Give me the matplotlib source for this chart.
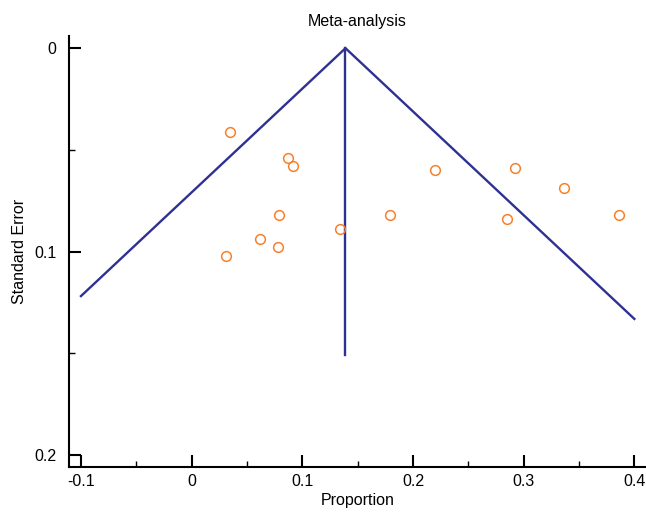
import numpy as np
import matplotlib
matplotlib.use("Agg")
import matplotlib.pyplot as plt
from matplotlib.ticker import MultipleLocator

plt.rcParams['font.family'] = ['Liberation Sans', 'DejaVu Sans']

# study estimates
proportion = [0.035, 0.087, 0.092, 0.079, 0.062, 0.078, 0.031, 0.134,
              0.179, 0.220, 0.292, 0.336, 0.285, 0.386]
std_error = [0.041, 0.054, 0.058, 0.082, 0.094, 0.098, 0.102, 0.089,
             0.082, 0.060, 0.059, 0.069, 0.084, 0.082]
pooled = 0.139
pooled_se_max = 0.151
x_ticks = [-0.1, 0, 0.1, 0.2, 0.3, 0.4]
y_ticks = [0, 0.1, 0.2]

navy = '#2E3192'
orange = '#F7812A'

fig = plt.figure(figsize=(6.46, 5.13), dpi=100)
ax = fig.add_axes([69/646, 46/513, 577/646, 431/513])

# funnel limits, cut where they reach the x range
se_left = (pooled - x_ticks[0]) / 1.96
se_right = (x_ticks[-1] - pooled) / 1.96
ax.plot([x_ticks[0], pooled, x_ticks[-1]], [se_left, 0, se_right],
        color=navy, lw=1.7, solid_joinstyle='miter')
ax.plot([pooled, pooled], [0, pooled_se_max], color=navy, lw=1.7)

ax.plot(proportion, std_error, 'o', mfc='none', mec=orange, ms=7, mew=1.1)

ax.set_xlim(-0.1108, 0.4105)
ax.set_ylim(0.206, -0.006)
ax.set_xticks(x_ticks)
ax.set_xticklabels(['-0.1', '0', '0.1', '0.2', '0.3', '0.4'])
ax.set_yticks(y_ticks)
ax.set_yticklabels(['0', '0.1', '0.2'])
ax.xaxis.set_minor_locator(MultipleLocator(0.05))
ax.yaxis.set_minor_locator(MultipleLocator(0.05))

for s in ['top', 'right']:
    ax.spines[s].set_visible(False)
for s in ['left', 'bottom']:
    ax.spines[s].set_linewidth(1.5)
ax.tick_params(which='major', direction='in', length=8.5, width=1.5, labelsize=11.5)
ax.tick_params(axis='y', which='major', pad=9)
ax.tick_params(axis='x', which='major', pad=5)
ax.tick_params(which='minor', direction='in', length=4, width=1)

ax.set_title('Meta-analysis', fontsize=11.5, pad=7)
ax.set_xlabel('Proportion', fontsize=11.5, labelpad=3)
ax.set_ylabel('Standard Error', fontsize=11.5, labelpad=5)

fig.savefig('out.png', dpi=100)
